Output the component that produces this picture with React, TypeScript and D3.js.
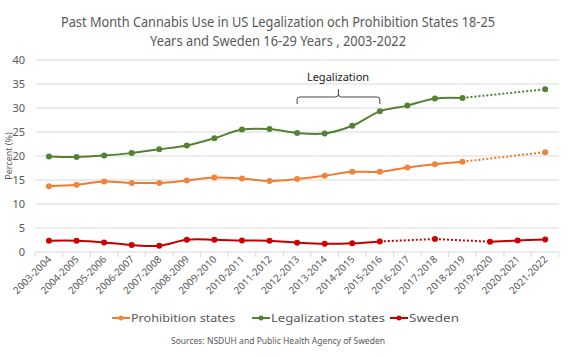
import React from "react";
import * as d3 from "d3";

const categories = [
  "2003-2004", "2004-2005", "2005-2006", "2006-2007", "2007-2008", "2008-2009",
  "2009-2010", "2010-2011", "2011-2012", "2012-2013", "2013-2014", "2014-2015",
  "2015-2016", "2016-2017", "2017-2018", "2018-2019", "2019-2020", "2020-2021", "2021-2022",
];
const prohibition: (number | null)[] = [
  13.7, 14.0, 14.7, 14.4, 14.4, 14.9, 15.5, 15.3, 14.8, 15.2, 15.9, 16.7, 16.7, 17.6, 18.3, 18.8, null, null, 20.8,
];
const legalization: (number | null)[] = [
  19.9, 19.8, 20.1, 20.6, 21.4, 22.2, 23.7, 25.5, 25.6, 24.8, 24.7, 26.3, 29.3, 30.5, 32.0, 32.1, null, null, 33.9,
];
const sweden: (number | null)[] = [
  2.35, 2.35, 2.0, 1.45, 1.3, 2.55, 2.55, 2.4, 2.35, 1.95, 1.7, 1.8, 2.2, null, 2.7, null, 2.15, 2.4, 2.6,
];
const yTicks = [0, 5, 10, 15, 20, 25, 30, 35, 40];

const series = [
  { name: "Prohibition states", values: prohibition, color: "#ED7D31", marker: "#F0843A" },
  { name: "Legalization states", values: legalization, color: "#548235", marker: "#548235" },
  { name: "Sweden", values: sweden, color: "#C00000", marker: "#D00000" },
];

const FONT = "'Noto Sans', 'Open Sans', sans-serif";
const TXT = "#595959";

export default function App() {
  const W = 583, H = 357;
  const x = d3.scaleBand<string>().domain(categories).range([35.2, 559]);
  const y = d3.scaleLinear().domain([0, 40]).range([252, 60]);
  const cx = (c: string) => (x(c) as number) + x.bandwidth() / 2;

  const line = d3
    .line<{ c: string; v: number | null }>()
    .defined((d) => d.v != null)
    .x((d) => cx(d.c))
    .y((d) => y(d.v as number))
    .curve(d3.curveCatmullRom.alpha(0.5));

  const gapSegments = (vals: (number | null)[]) => {
    const segs: [number, number][] = [];
    let prev = -1;
    vals.forEach((v, i) => {
      if (v == null) return;
      if (prev >= 0 && i - prev > 1) segs.push([prev, i]);
      prev = i;
    });
    return segs;
  };

  const legendItems = [
    { s: series[0], lx: 112, tl: 104 },
    { s: series[1], lx: 252, tl: 114 },
    { s: series[2], lx: 390, tl: 50 },
  ];

  const braceL = cx(categories[9]);
  const braceR = cx(categories[12]);
  const braceM = (braceL + braceR) / 2;

  return (
    <svg width={W} height={H} style={{ position: "absolute", left: 0, top: 0, background: "#fff" }}>
      <text x={278} y={27} textAnchor="middle" fontFamily={FONT} fontSize={14} fill={TXT}
        textLength={434} lengthAdjust="spacingAndGlyphs">
        Past Month Cannabis Use in US Legalization och Prohibition States 18-25
      </text>
      <text x={278} y={46} textAnchor="middle" fontFamily={FONT} fontSize={14} fill={TXT}
        textLength={256} lengthAdjust="spacingAndGlyphs">
        Years and Sweden 16-29 Years , 2003-2022
      </text>

      {yTicks.map((t) => (
        <g key={t}>
          {t > 0 && <line x1={35.2} x2={559} y1={y(t)} y2={y(t)} stroke="#d9d9d9" strokeWidth={1} />}
          <text x={25} y={y(t) + 4} textAnchor="end" fontFamily={FONT} fontSize={11} fill={TXT}>{t}</text>
        </g>
      ))}
      <line x1={35.2} x2={559} y1={252} y2={252} stroke="#d9d9d9" strokeWidth={1} />
      {categories.map((c, i) => (
        <line key={"tk" + i} x1={x(c) as number} x2={x(c) as number} y1={252} y2={257} stroke="#d9d9d9" />
      ))}
      <line x1={559} x2={559} y1={252} y2={257} stroke="#d9d9d9" />
      {categories.map((c) => (
        <text key={"xl" + c} transform={`translate(${cx(c) + 3},${260}) rotate(-45)`} textAnchor="end"
          fontFamily={FONT} fontSize={10} fill={TXT}>{c}</text>
      ))}
      <text transform={`translate(12,156) rotate(-90)`} textAnchor="middle" fontFamily={FONT} fontSize={9} fill={TXT}>
        Percent (%)
      </text>

      {series.map((s) => {
        const data = categories.map((c, i) => ({ c, v: s.values[i] }));
        return (
          <g key={s.name}>
            <path d={line(data) || ""} fill="none" stroke={s.color} strokeWidth={2} />
            {gapSegments(s.values).map(([a, b]) => (
              <line key={a + "-" + b} x1={cx(categories[a])} y1={y(s.values[a] as number)}
                x2={cx(categories[b])} y2={y(s.values[b] as number)}
                stroke={s.color} strokeWidth={2} strokeDasharray="2,2" />
            ))}
            {data.filter((d) => d.v != null).map((d) => (
              <circle key={d.c} cx={cx(d.c)} cy={y(d.v as number)} r={3} fill={s.marker} />
            ))}
          </g>
        );
      })}

      <text x={338} y={81} textAnchor="middle" fontFamily={FONT} fontSize={11} fill="#222">Legalization</text>
      <path
        d={`M${braceL},104 L${braceL},99 Q${braceL},97 ${braceL + 3},97 L${braceM - 3},97 Q${braceM},97 ${braceM},94 L${braceM},89 M${braceM},94 Q${braceM},97 ${braceM + 3},97 L${braceR - 3},97 Q${braceR},97 ${braceR},99 L${braceR},104`}
        fill="none" stroke="#444" strokeWidth={1} />

      {legendItems.map(({ s, lx, tl }) => (
        <g key={"lg" + s.name}>
          <line x1={lx} x2={lx + 18} y1={318} y2={318} stroke={s.color} strokeWidth={2} />
          <circle cx={lx + 9} cy={318} r={2.5} fill={s.marker} />
          <text x={lx + 19} y={322} fontFamily={FONT} fontSize={11} fill={TXT}
            textLength={tl} lengthAdjust="spacingAndGlyphs">{s.name}</text>
        </g>
      ))}

      <text x={278} y={344} textAnchor="middle" fontFamily={FONT} fontSize={9.5} fill={TXT}
        textLength={214} lengthAdjust="spacingAndGlyphs">
        Sources: NSDUH and Public Health Agency of Sweden
      </text>
    </svg>
  );
}
